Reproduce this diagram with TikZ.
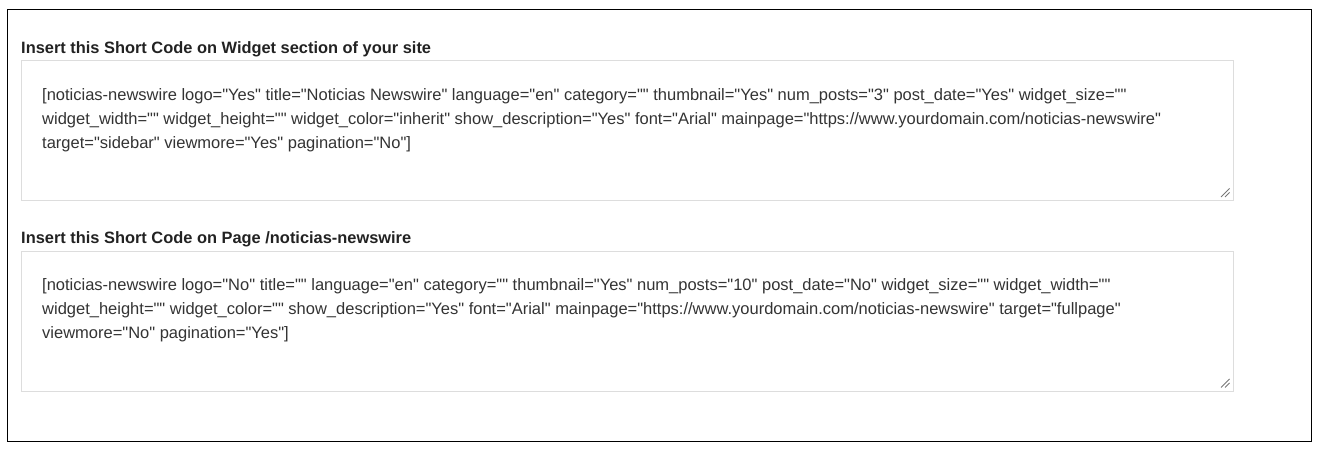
\documentclass[tikz,border=0pt]{standalone}
\usepackage{fontspec}
\setmainfont{Liberation Sans}[Ligatures=TeXOff]
\usepackage{tikz}
\usetikzlibrary{positioning,calc}

\definecolor{boxline}{HTML}{DDDDDD}
\definecolor{codetext}{HTML}{333333}
\definecolor{headtext}{HTML}{222222}
\definecolor{gripcol}{HTML}{777777}

\begin{document}
\begin{tikzpicture}[
    x=1pt, y=-1pt,
    frame/.style={draw=black, line width=1.2pt},
    heading/.style={anchor=base west, inner sep=0pt, text=headtext, font=\fontsize{16.4}{18}\selectfont\bfseries},
    codearea/.style={draw=boxline, line width=1pt},
    codeline/.style={anchor=base west, inner sep=0pt, text=codetext, font=\fontsize{16.5}{24}\selectfont},
    grip/.style={draw=gripcol, line width=1pt}
]
    \useasboundingbox (0,0) rectangle (1318,448);
    \draw[frame] (7.5,9.5) rectangle (1311.5,441.5);

    % widget section
    \node[heading] (headA) at (21,53) {Insert this Short Code on Widget section of your site};
    \draw[codearea] (21.5,60.5) rectangle (1233.5,200.5);
    \node[codeline] (codeA1) at (42,100) {[noticias-newswire logo="Yes" title="Noticias Newswire" language="en" category="" thumbnail="Yes" num\_posts="3" post\_date="Yes" widget\_size=""};
    \node[codeline] (codeA2) at (42,124) {widget\_width="" widget\_height="" widget\_color="inherit" show\_description="Yes" font="Arial" mainpage="https://www.yourdomain.com/noticias-newswire"};
    \node[codeline] (codeA3) at (42,148) {target="sidebar" viewmore="Yes" pagination="No"]};
    \coordinate (gripA) at (1229.5,188.5);
    \draw[grip] (gripA) -- ++(-8.5,8.5);
    \draw[grip] ($(gripA)+(0,4)$) -- ++(-4.5,4.5);

    % page section
    \node[heading] (headB) at (21,243.5) {Insert this Short Code on Page /noticias-newswire};
    \draw[codearea] (21.5,251) rectangle (1233.5,391.5);
    \node[codeline] (codeB1) at (42,290.5) {[noticias-newswire logo="No" title="" language="en" category="" thumbnail="Yes" num\_posts="10" post\_date="No" widget\_size="" widget\_width=""};
    \node[codeline] (codeB2) at (42,314.5) {widget\_height="" widget\_color="" show\_description="Yes" font="Arial" mainpage="https://www.yourdomain.com/noticias-newswire" target="fullpage"};
    \node[codeline] (codeB3) at (42,338.5) {viewmore="No" pagination="Yes"]};
    \coordinate (gripB) at (1229.5,379);
    \draw[grip] (gripB) -- ++(-8.5,8.5);
    \draw[grip] ($(gripB)+(0,4)$) -- ++(-4.5,4.5);
\end{tikzpicture}
\end{document}
